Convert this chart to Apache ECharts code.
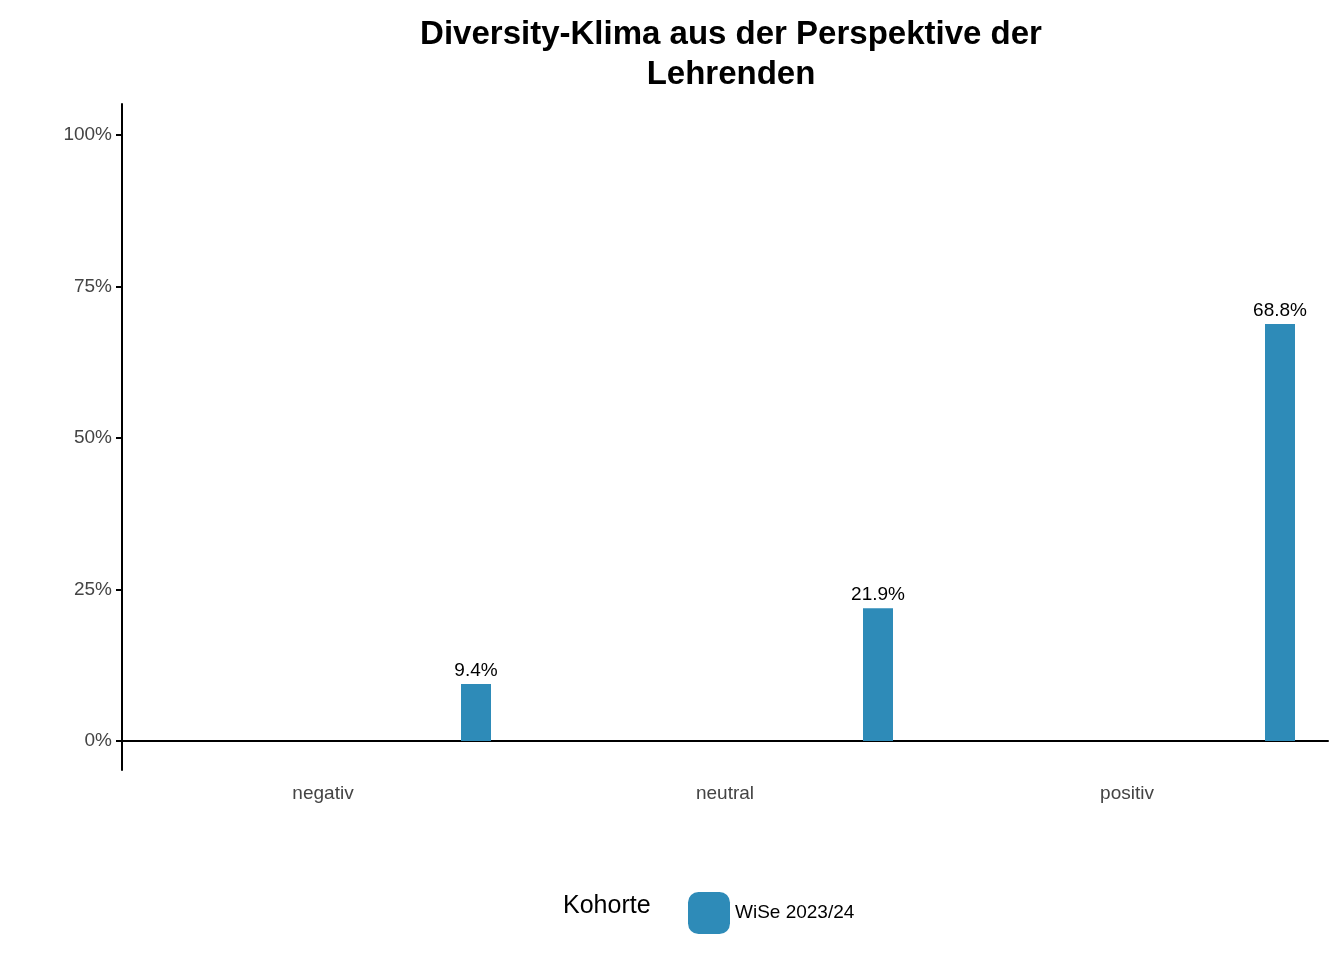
<!DOCTYPE html>
<html><head><meta charset="utf-8">
<script src="https://cdn.jsdelivr.net/npm/echarts@6/dist/echarts.min.js"></script>
<style>body{margin:0}#container{width:1344px;height:960px}</style>
</head><body><div id="container"></div>
<script>
var categories = ['negativ', 'neutral', 'positiv'];
var cohort = 'WiSe 2023/24';
var values = [9.4, 21.9, 68.8];
var yTicks = [0, 25, 50, 75, 100];

var chart = echarts.init(document.getElementById('container'));
var font = 'Liberation Sans, Arial, sans-serif';
var option = {
    animation: false,
    title: {
        text: 'Diversity-Klima aus der Perspektive der\nLehrenden',
        left: 726, textAlign: 'center', top: 10,
        textStyle: {fontFamily: font, fontSize: 33, fontWeight: 'bold', color: '#000', lineHeight: 40}
    },
    grid: {left: 122, right: 16, top: 104, bottom: 190},
    legend: {
        data: [cohort], left: 683, top: 887, itemWidth: 42, itemHeight: 42,
        textStyle: {fontFamily: font, fontSize: 19, color: '#000'}
    },
    graphic: [{
        type: 'text', left: 563, top: 894,
        style: {text: 'Kohorte', font: '25px ' + font, fill: '#000'}
    }],
    xAxis: {
        type: 'category', data: categories,
        axisLine: {lineStyle: {color: '#000', width: 2}},
        axisTick: {alignWithLabel: true, length: 6, lineStyle: {color: '#000', width: 2}},
        axisLabel: {fontFamily: font, fontSize: 19, color: '#444', margin: 14}
    },
    yAxis: {
        type: 'value', min: -4.8, max: 105.1,
        splitLine: {show: false},
        axisLine: {show: true, lineStyle: {color: '#000', width: 2}},
        axisTick: {show: true, customValues: yTicks, length: 6, lineStyle: {color: '#000', width: 2}},
        axisLabel: {customValues: yTicks, formatter: '{value}%', fontFamily: font, fontSize: 19, color: '#444', margin: 10}
    },
    series: [{
        name: 'spacer', type: 'bar', data: [null, null, null], barWidth: 30, barGap: '920%'
    }, {
        name: cohort, type: 'bar', data: values, barWidth: 30, barGap: '920%',
        itemStyle: {color: '#2E8BB8'},
        label: {
            show: true, position: 'top', distance: 4, formatter: function (p) { return p.value.toFixed(1) + '%'; },
            fontFamily: font, fontSize: 19, color: '#000'
        }
    }]
};
chart.setOption(option);
</script></body></html>
